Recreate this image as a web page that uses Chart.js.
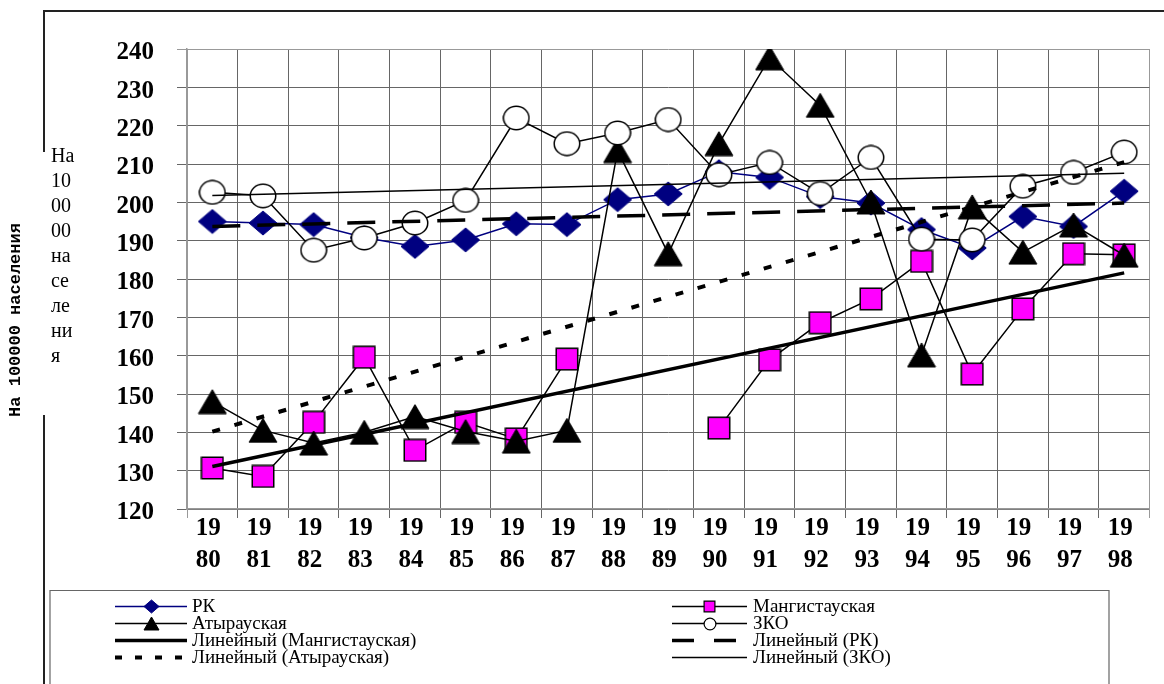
<!DOCTYPE html>
<html>
<head>
<meta charset="utf-8">
<script src="https://cdn.jsdelivr.net/npm/chart.js@4.4.0/dist/chart.umd.min.js"></script>
<style>
  html, body { margin: 0; padding: 0; background: #fff; }
  #wrap { position: relative; width: 1164px; height: 684px; overflow: hidden; }
  canvas { display: block; }
</style>
</head>
<body>
<div id="wrap"><canvas id="chart" width="1164" height="684"></canvas></div>
<script>
// Years on the category axis (drawn as "19" over the last two digits)
const years = ['1980','1981','1982','1983','1984','1985','1986','1987','1988','1989',
               '1990','1991','1992','1993','1994','1995','1996','1997','1998'];
const yearLabels = years.map(y => [y.slice(0, 2), y.slice(2)]);

// Value axis range
const yMin = 120, yMax = 240, yStep = 10;

// Rates per 100 000 population
const rk        = [195.0, 194.6, 194.2, 190.8, 188.5, 190.2, 194.4, 194.2, 200.7, 202.2,
                   208.0, 206.5, 201.5, 199.8, 192.9, 188.1, 196.3, 193.7, 202.9];
const mangistau = [130.7, 128.5, 142.6, 159.6, 135.3, 142.6, 138.3, 159.1, null, null,
                   141.1, 158.9, 168.6, 174.8, 184.6, 155.2, 172.2, 186.6, 186.3];
const atyrau    = [148.0, 140.5, 137.2, 140.0, 144.1, 140.2, 137.7, 140.5, 213.5, 186.6,
                   215.3, 237.7, 225.3, 200.1, 160.2, 198.8, 187.0, 194.1, 186.2];
const zko       = [202.6, 201.7, 187.5, 190.7, 194.6, 200.5, 222.0, 215.3, 218.1, 221.6,
                   207.2, 210.4, 202.3, 211.7, 190.4, 190.2, 204.2, 207.8, 213.1];

// Linear trend lines: values at 1980 and at 1998
const linMangistau = [131.1, 181.6];
const linRK        = [193.7, 199.8];
const linAtyrau    = [140.2, 210.5];
const linZKO       = [201.8, 207.6];

// ---- markers -------------------------------------------------------------
function marker(kind, w, h, fill, stroke, lw) {
  const c = document.createElement('canvas');
  c.width = w; c.height = h;
  const g = c.getContext('2d');
  const p = lw / 2 + 0.5;
  g.fillStyle = fill; g.strokeStyle = stroke; g.lineWidth = lw;
  g.beginPath();
  if (kind === 'diamond') {
    g.moveTo(w / 2, p); g.lineTo(w - p, h / 2); g.lineTo(w / 2, h - p); g.lineTo(p, h / 2); g.closePath();
  } else if (kind === 'square') {
    g.rect(p, p, w - 2 * p, h - 2 * p);
  } else if (kind === 'triangle') {
    g.moveTo(w / 2, p); g.lineTo(w - p, h - p); g.lineTo(p, h - p); g.closePath();
  } else {
    g.ellipse(w / 2, h / 2, w / 2 - p, h / 2 - p, 0, 0, Math.PI * 2);
  }
  g.fill();
  if (lw > 0) g.stroke();
  return c;
}

const NAVY = '#000080', MAGENTA = '#ff00ff';
const mk = {
  rk:   marker('diamond', 30, 26, NAVY, NAVY, 1),
  man:  marker('square', 24, 24, MAGENTA, '#000', 1.5),
  aty:  marker('triangle', 30, 26, '#000', '#000', 1),
  zko:  marker('circle', 28, 26, '#fff', '#000', 1.5)
};
const mkLegend = {
  rk:   marker('diamond', 17, 15, NAVY, NAVY, 1),
  man:  marker('square', 13, 13, MAGENTA, '#000', 1.2),
  aty:  marker('triangle', 17, 15, '#000', '#000', 1),
  zko:  marker('circle', 14, 14, '#fff', '#000', 1.2)
};

function trend(ends) {
  return years.map((_, i) => i === 0 ? ends[0] : (i === years.length - 1 ? ends[1] : null));
}

const series = (label, data, color, pm, lm, order) => ({
  label, data, order,
  borderColor: color, backgroundColor: color, borderWidth: 1.5,
  pointStyle: pm, pointRadius: 13, pointHoverRadius: 13,
  spanGaps: false, tension: 0,
  legendMarker: lm, legendWidth: 1.5
});
const trendSeries = (label, ends, width, dash, legendDash) => ({
  label, data: trend(ends), order: 0,
  borderColor: '#000', borderWidth: width, borderDash: dash,
  pointRadius: 0, spanGaps: true, tension: 0,
  legendWidth: width, legendDash: legendDash
});

const datasets = [
  series('РК', rk, NAVY, mk.rk, mkLegend.rk, 4),
  series('Мангистауская', mangistau, '#000', mk.man, mkLegend.man, 3),
  series('Атырауская', atyrau, '#000', mk.aty, mkLegend.aty, 2),
  series('ЗКО', zko, '#000', mk.zko, mkLegend.zko, 1),
  trendSeries('Линейный (Мангистауская)', linMangistau, 3.5, [], []),
  trendSeries('Линейный (РК)', linRK, 3.5, [28, 17], [22, 20]),
  trendSeries('Линейный (Атырауская)', linAtyrau, 4, [8, 15], [7, 13]),
  trendSeries('Линейный (ЗКО)', linZKO, 1.5, [], [])
];

// ---- frame, side captions and legend ---------------------------------------
const decor = {
  id: 'decor',
  afterDraw(chart) {
    const ctx = chart.ctx;
    ctx.save();
    // outer frame
    ctx.strokeStyle = '#222';
    ctx.lineWidth = 2;
    ctx.beginPath();
    ctx.moveTo(44, 684); ctx.lineTo(44, 415);
    ctx.moveTo(44, 152); ctx.lineTo(44, 11); ctx.lineTo(1164, 11);
    ctx.stroke();

    // rotated axis caption
    ctx.save();
    ctx.translate(16, 320);
    ctx.rotate(-Math.PI / 2);
    ctx.font = 'bold 17px "Liberation Mono"';
    ctx.fillStyle = '#000';
    ctx.textAlign = 'center';
    ctx.textBaseline = 'middle';
    ctx.fillText('На 100000 населения', 0, 0);
    ctx.restore();

    // wrapped caption next to the value axis
    ctx.font = '20px "Liberation Serif"';
    ctx.fillStyle = '#000';
    ctx.textAlign = 'left';
    ctx.textBaseline = 'alphabetic';
    ['На', '10', '00', '00', 'на', 'се', 'ле', 'ни', 'я'].forEach((s, i) => {
      ctx.fillText(s, 51, 161.7 + 25 * i);
    });

    // legend box
    ctx.strokeStyle = '#666';
    ctx.lineWidth = 1.2;
    ctx.beginPath();
    ctx.moveTo(50, 700); ctx.lineTo(50, 590.5); ctx.lineTo(1109, 590.5); ctx.lineTo(1109, 700);
    ctx.stroke();

    const rows = [606.5, 623.5, 640.5, 657.5];
    const cols = [{ x0: 115, x1: 187, tx: 192 }, { x0: 672, x1: 747, tx: 753 }];
    chart.data.datasets.forEach((ds, i) => {
      const col = cols[i % 2], y = rows[Math.floor(i / 2)];
      ctx.save();
      ctx.strokeStyle = ds.borderColor;
      ctx.lineWidth = ds.legendWidth;
      ctx.setLineDash(ds.legendDash || []);
      ctx.beginPath();
      ctx.moveTo(col.x0, y); ctx.lineTo(col.x1, y);
      ctx.stroke();
      ctx.restore();
      if (ds.legendMarker) {
        const m = ds.legendMarker;
        ctx.drawImage(m, Math.round((col.x0 + col.x1) / 2 - m.width / 2), Math.round(y - m.height / 2));
      }
      ctx.font = '19px "Liberation Serif"';
      ctx.fillStyle = '#000';
      ctx.textBaseline = 'middle';
      ctx.fillText(ds.label, col.tx, y + 1);
    });
    ctx.restore();
  }
};

const tickFont = { family: '"Liberation Serif"', size: 25, weight: 'bold', lineHeight: 1.3 };

new Chart(document.getElementById('chart'), {
  type: 'line',
  data: { labels: yearLabels, datasets },
  options: {
    responsive: false,
    animation: false,
    events: [],
    layout: { padding: { left: 0, top: 49, right: 11, bottom: 95 } },
    plugins: { legend: { display: false }, tooltip: { enabled: false } },
    scales: {
      x: {
        type: 'category',
        offset: true,
        grid: {
          offset: true,
          tickLength: 9,
          lineWidth: 1,
          color: c => (c.type !== 'tick' || c.index === 0) ? '#999' : '#666'
        },
        border: { color: '#999', width: 1.5 },
        ticks: {
          font: tickFont, color: '#000', padding: -6, labelOffset: -4,
          maxRotation: 0, autoSkip: false
        },
        afterFit(s) { s.height = 80; }
      },
      y: {
        min: yMin, max: yMax,
        grid: {
          tickLength: 10,
          lineWidth: 1,
          color: c => (c.type === 'tick' && c.index === c.scale.ticks.length - 1) ? '#999' : '#666'
        },
        border: { color: '#999', width: 1.5 },
        ticks: {
          stepSize: yStep, font: tickFont, color: '#000', padding: 23, labelOffset: 4
        },
        afterFit(s) { s.width = 187; }
      }
    }
  },
  plugins: [decor]
});
</script>
</body>
</html>
